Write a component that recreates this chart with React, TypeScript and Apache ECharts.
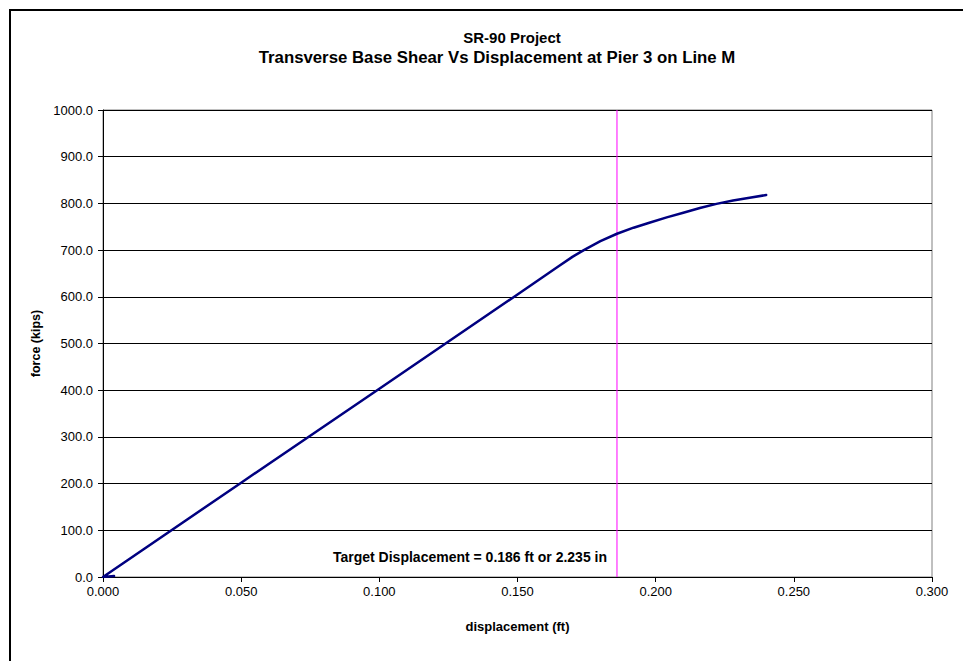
import React, { useEffect, useRef } from "react";
import * as echarts from "echarts";

const titleLine1 = "SR-90 Project";
const titleLine2 = "Transverse Base Shear Vs Displacement at Pier 3 on Line M";
const xAxisName = "displacement (ft)";
const yAxisName = "force (kips)";
const annotation = "Target Displacement = 0.186 ft or 2.235 in";
const targetDisplacement = 0.186;
const forceRange = [0, 1000];

const displacement = [0.004, 0.0, 0.05, 0.1, 0.15, 0.165, 0.17, 0.174, 0.18, 0.186, 0.192, 0.198, 0.204, 0.21, 0.216, 0.222, 0.228, 0.234, 0.24];
const force = [2, 0.0, 202, 403, 605, 666, 686, 700, 719, 735, 748, 759, 770, 780, 790, 799, 806, 812, 818];

export default function App() {
  const ref = useRef<HTMLDivElement>(null);
  useEffect(() => {
    if (!ref.current) return;
    const chart = echarts.init(ref.current, null, { renderer: "svg" });
    const font = "'Liberation Sans', Arial, sans-serif";
    chart.setOption({
      animation: false,
      backgroundColor: "#fff",
      grid: { left: 103, top: 110, width: 829, height: 467, containLabel: false, show: true, borderColor: "#808080", borderWidth: 1, backgroundColor: "transparent" },
      xAxis: {
        type: "value",
        min: 0,
        max: 0.3,
        interval: 0.05,
        name: xAxisName,
        nameLocation: "middle",
        nameGap: 43,
        nameTextStyle: { fontFamily: font, fontSize: 13, fontWeight: "bold", color: "#000" },
        axisLine: { show: true, lineStyle: { color: "#000", width: 1 } },
        axisTick: { show: true, inside: false, length: 5, lineStyle: { color: "#000" } },
        axisLabel: { fontFamily: font, fontSize: 13, color: "#000", margin: 8, formatter: (v: number) => v.toFixed(3) },
        splitLine: { show: false },
      },
      yAxis: {
        type: "value",
        min: 0,
        max: 1000,
        interval: 100,
        name: yAxisName,
        nameLocation: "middle",
        nameGap: 61,
        nameRotate: 90,
        nameTextStyle: { fontFamily: font, fontSize: 12.5, fontWeight: "bold", color: "#000" },
        axisLine: { show: true, lineStyle: { color: "#000", width: 1 } },
        axisTick: { show: true, inside: false, length: 5, lineStyle: { color: "#000" } },
        axisLabel: { fontFamily: font, fontSize: 13, color: "#000", margin: 10, formatter: (v: number) => v.toFixed(1) },
        splitLine: { show: true, lineStyle: { color: "#000", width: 1 } },
      },
      series: [
        {
          type: "line",
          data: forceRange.map((f) => [targetDisplacement, f]),
          showSymbol: false,
          silent: true,
          lineStyle: { color: "#FF00FF", width: 1 },
          z: 1,
        },
        {
          type: "line",
          data: displacement.map((d, i) => [d, force[i]]),
          showSymbol: false,
          smooth: false,
          lineStyle: { color: "#000080", width: 2.5, join: "round", cap: "round" },
          z: 2,
        },
      ],
      graphic: [
        { type: "rect", shape: { x: 10, y: 10, width: 1000, height: 700 }, style: { fill: "none", stroke: "#000", lineWidth: 2 } },
        { type: "text", x: 512, y: 37, style: { text: titleLine1, fontFamily: font, fontSize: 15, fontWeight: "bold", fill: "#000", textAlign: "center", textVerticalAlign: "middle" } },
        { type: "text", x: 497, y: 57, style: { text: titleLine2, fontFamily: font, fontSize: 16.8, fontWeight: "bold", fill: "#000", textAlign: "center", textVerticalAlign: "middle" } },
        { type: "text", x: 470, y: 557, style: { text: annotation, fontFamily: font, fontSize: 14, fontWeight: "bold", fill: "#000", textAlign: "center", textVerticalAlign: "middle" } },
      ],
    });
    return () => chart.dispose();
  }, []);
  return <div ref={ref} style={{ position: "absolute", left: 0, top: 0, width: 963, height: 661 }} />;
}
